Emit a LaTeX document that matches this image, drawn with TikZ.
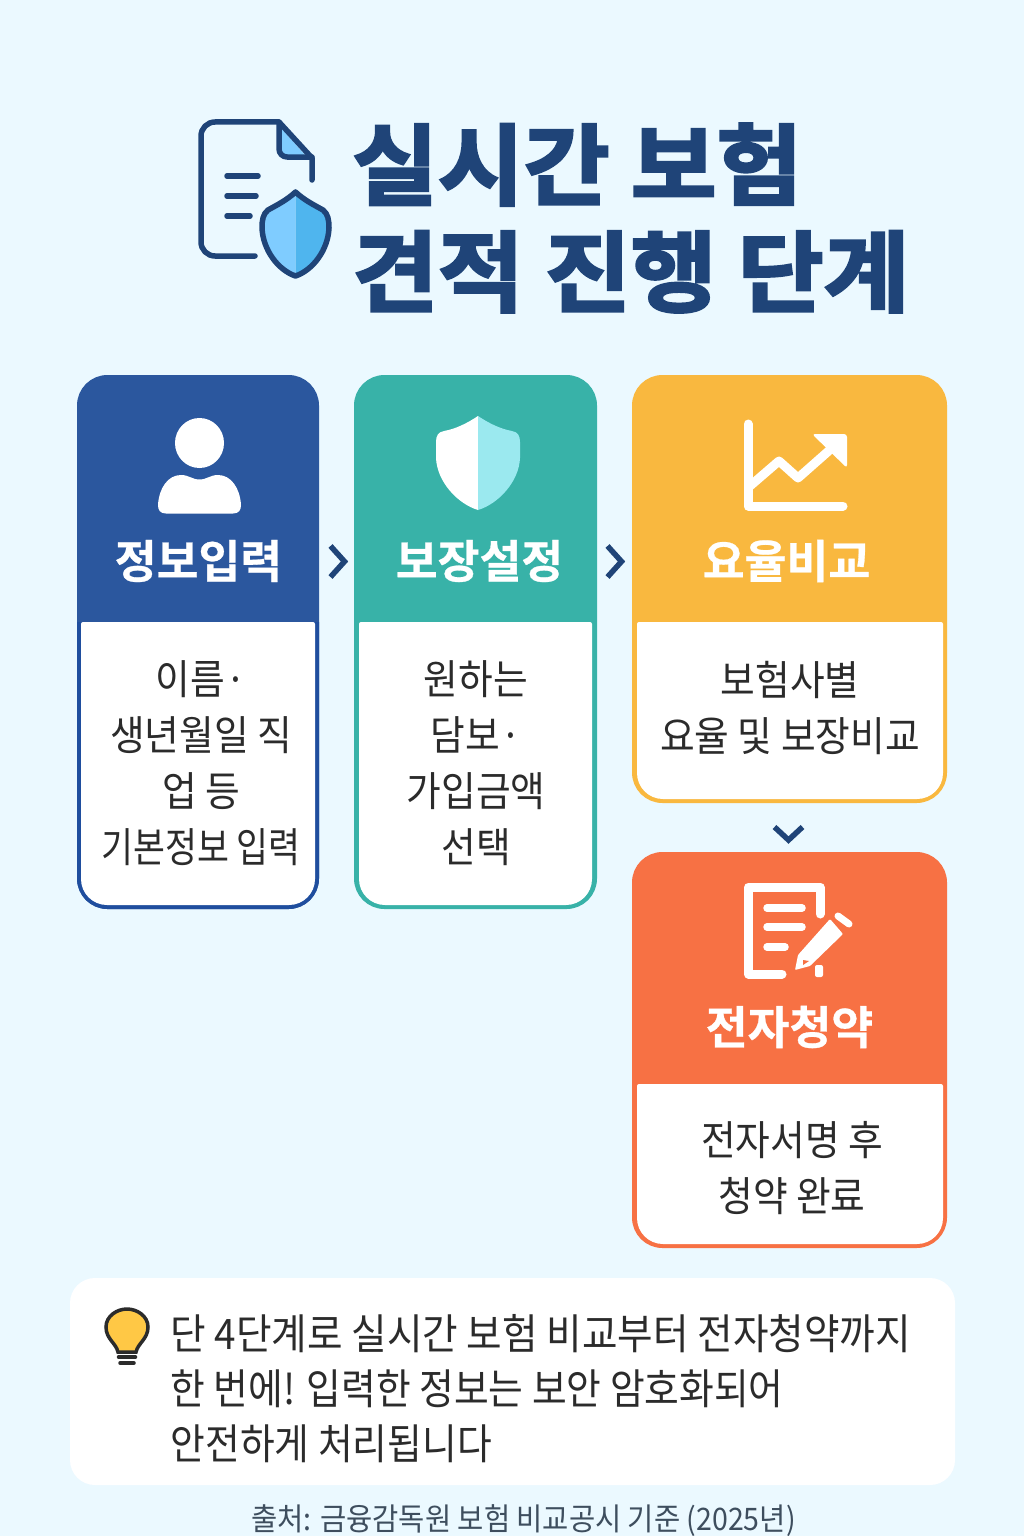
\documentclass[tikz,border=0pt]{standalone}
\usepackage{fontspec}
\setmainfont{Noto Sans CJK KR}
\newfontfamily\titlefont{Noto Sans CJK KR Bold}[FakeBold=3,FakeStretch=1.06]
\newfontfamily\headfont{Noto Sans CJK KR Bold}[FakeBold=0.6]
\newfontfamily\bodyfont{Noto Sans CJK KR}[FakeStretch=0.92]
\usetikzlibrary{positioning, calc}
\definecolor{pagebg}{HTML}{EBF9FF}
\definecolor{navy}{HTML}{1F4478}
\definecolor{bluehead}{HTML}{2B579E}
\definecolor{blueline}{HTML}{1F4E9E}
\definecolor{tealhead}{HTML}{38B2A8}
\definecolor{amberhead}{HTML}{F9B83F}
\definecolor{orangehead}{HTML}{F77144}
\definecolor{skylight}{HTML}{7FCCFF}
\definecolor{skydark}{HTML}{4FB5EE}
\definecolor{mint}{HTML}{9BE9EF}
\definecolor{inkdark}{HTML}{2B2B2B}
\definecolor{bulbfill}{HTML}{FFC845}
\definecolor{sourceink}{HTML}{3E4E5E}

\begin{document}
\begin{tikzpicture}[
    x=1pt, y=-1pt,
    card/.style={draw, rectangle, rounded corners=28pt, line width=5pt, outer sep=0pt, inner sep=0pt},
    headtext/.style={text=white, inner sep=0pt, font={\fontsize{45.5}{50}\headfont}},
    bodytext/.style={text=inkdark, inner sep=0pt, align=center, font={\fontsize{41}{56}\bodyfont}},
    chevron/.style={draw=navy, line width=5.5pt, line join=miter},
    iconline/.style={draw=white, line width=9pt, line cap=round, line join=round},
    docline/.style={draw=navy, line width=5.5pt, line cap=round, line join=round}
]
    \useasboundingbox (0,0) rectangle (1024,1536);
    \fill[pagebg] (0,0) rectangle (1024,1536);

    % Title
    \node[anchor=west, align=left, inner sep=0pt, text=navy, font={\fontsize{88}{107}\titlefont}] (title) at (352,218) {실시간 보험\\견적 진행 단계};

    % Document icon
    \fill[skylight] (281,128) -- (305,155) -- (281,155) -- cycle;
    \draw[docline] (255,256) [rounded corners=14pt] -- (201,256) -- (201,122) [sharp corners] -- (279,122) -- (312,158) -- (312,180);
    \draw[docline, rounded corners=8pt] (279,122) -- (279,157) -- (312,157);
    \draw[docline] (227,176) -- (258,176);
    \draw[docline] (227,196) -- (256,196);
    \draw[docline] (227,216) -- (250,216);
    \fill[skylight] (295.5,192) .. controls (287,200) and (277,205) .. (268,210) .. controls (263,214) and (262,220) .. (262,228) .. controls (263,250) and (278,270) .. (295.5,276) -- cycle;
    \fill[skydark] (295.5,192) .. controls (304,200) and (314,205) .. (323,210) .. controls (328,214) and (329,220) .. (329,228) .. controls (328,250) and (313,270) .. (295.5,276) -- cycle;
    \draw[docline] (295.5,192) .. controls (287,200) and (277,205) .. (268,210) .. controls (263,214) and (262,220) .. (262,228) .. controls (263,250) and (278,270) .. (295.5,276) .. controls (313,270) and (328,250) .. (329,228) .. controls (329,220) and (328,214) .. (323,210) .. controls (314,205) and (304,200) .. (295.5,192) -- cycle;

    % Cards
    \node[card, draw=bluehead, fill=bluehead, minimum width=237pt, minimum height=529pt] (card1) at (198,642) {};
    \node[card, draw=tealhead, fill=tealhead, minimum width=238pt, minimum height=529pt, anchor=north west] (card2) at (356.5,377.5) {};
    \node[card, draw=amberhead, fill=amberhead, minimum width=310pt, minimum height=423pt, anchor=north west] (card3) at (634.5,377.5) {};
    \node[card, draw=orangehead, fill=orangehead, minimum width=310pt, minimum height=391pt, below=54pt of card3] (card4) {};

    % White panels
    \draw[draw=blueline, line width=5pt, rounded corners=28pt] (79.5,622) -- (79.5,906.5) -- (316.5,906.5) -- (316.5,622);
    \fill[white, rounded corners=2pt] (81,622) -- (315,622) [rounded corners=26pt] -- (315,905) -- (81,905) [rounded corners=2pt] -- cycle;
    \fill[white, rounded corners=2pt] (359,622) -- (592,622) [rounded corners=26pt] -- (592,905) -- (359,905) [rounded corners=2pt] -- cycle;
    \fill[white, rounded corners=2pt] (637,622) -- (943,622) [rounded corners=26pt] -- (943,799) -- (637,799) [rounded corners=2pt] -- cycle;
    \fill[white, rounded corners=2pt] (637,1084) -- (943,1084) [rounded corners=26pt] -- (943,1244) -- (637,1244) [rounded corners=2pt] -- cycle;

    % Card texts
    \node[headtext] (head1) at (198.5,561) {정보입력};
    \node[headtext] (head2) at (479.5,561) {보장설정};
    \node[headtext] (head3) at (786.5,561) {요율비교};
    \node[headtext] (head4) at (789.5,1027) {전자청약};
    \node[bodytext] (text1) at (201,763.5) {이름·\\생년월일 직\\업 등\\\scalebox{0.92}[1]{기본정보 입력}};
    \node[bodytext] (text2) at (476,763.5) {원하는\\담보·\\가입금액\\선택};
    \node[bodytext] (text3) at (790,707.5) {보험사별\\요율 및 보장비교};
    \node[bodytext] (text4) at (792,1168.5) {전자서명 후\\청약 완료};

    % Person icon
    \fill[white] (199.5,443) ellipse[x radius=24.5pt, y radius=25pt];
    \fill[white] (166,513.5) .. controls (160,513.5) and (158,510) .. (158,505) .. controls (159,488) and (168,475) .. (181,475) .. controls (189,475) and (192,479.5) .. (199.5,479.5) .. controls (207,479.5) and (210,475) .. (218,475) .. controls (231,475) and (240,488) .. (241,505) .. controls (241,510) and (239,513.5) .. (233,513.5) -- cycle;

    % Shield icon
    \fill[white] (478,416) .. controls (466,424) and (455,429) .. (444,431) .. controls (438,432) and (436,436) .. (436,442) -- (436,458) .. controls (437,482) and (458,504) .. (478,510) -- cycle;
    \fill[mint] (478,416) .. controls (490,424) and (501,429) .. (512,431) .. controls (518,432) and (520,436) .. (520,442) -- (520,458) .. controls (519,482) and (498,504) .. (478,510) -- cycle;

    % Chart icon
    \draw[iconline] (748,424) -- (748,506) -- (843,506);
    \draw[iconline, line cap=butt] (750,486) -- (779,461) -- (798,478) -- (832,448);
    \fill[white, rounded corners=3pt] (812,434) -- (847,434) -- (847,468) -- cycle;

    % Form icon
    \draw[iconline] (820,914) -- (820,887) -- (748.5,887) -- (748.5,974) -- (782,974);
    \draw[iconline, line width=7.5pt] (767,908) -- (802,908);
    \draw[iconline, line width=7.5pt] (767,927) -- (802,927);
    \draw[iconline, line width=7.5pt] (767,947) -- (785,947);
    \fill[white, rounded corners=1pt] (830,919) -- (843,934) -- (810,966) -- (795,970) -- (798,955) -- cycle;
    \fill[orangehead] (803,960) -- (809,961) -- (803,965) -- cycle;
    \draw[iconline, line width=7pt] (838,916) -- (849,924);
    \fill[white, rounded corners=2pt] (815,965) rectangle (823,977);

    % Connections
    \coordinate (next1) at ($(card1.east |- head1)!0.5!(card2.west |- head1)$);
    \coordinate (next2) at ($(card2.east |- head2)!0.5!(card3.west |- head2)$);
    \coordinate (next3) at ($(card3.south)!0.5!(card4.north)$);
    \draw[chevron] ($(next1)+(-6,-15)$) -- ++(14,15.5) -- ++(-14,15.5);
    \draw[chevron] ($(next2)+(-7,-15)$) -- ++(14,15.5) -- ++(-14,15.5);
    \draw[chevron] ($(next3)+(-15,-0.5)$) -- ++(14,13) -- ++(14,-13);

    % Note box
    \node[draw=none, fill=white, rectangle, rounded corners=25pt, minimum width=885pt, minimum height=207pt] (note) at (512.5,1381.5) {};
    \node[anchor=west, align=left, inner sep=0pt, text=inkdark, font={\fontsize{42}{55}\bodyfont}] (notetext) at (170.5,1388.5) {단 4단계로 실시간 보험 비교부터 전자청약까지\\\scalebox{0.977}[1]{한 번에! 입력한 정보는 보안 암호화되어}\\\scalebox{0.977}[1]{안전하게 처리됩니다}};

    % Bulb icon
    \draw[fill=bulbfill, draw=inkdark, line width=3.5pt] (118,1352) .. controls (116,1343) and (106,1339) .. (106,1327) .. controls (106,1316) and (117,1309) .. (127,1309) .. controls (137,1309) and (148,1316) .. (148,1327) .. controls (148,1339) and (138,1343) .. (136,1352) -- cycle;
    \draw[draw=inkdark, line width=3.5pt, line cap=round] (118.5,1357) -- (135.5,1357);
    \draw[draw=inkdark, line width=3.5pt, line cap=round] (120,1363) -- (134,1363);

    % Source line
    \node[inner sep=0pt, text=sourceink, font={\fontsize{31}{36}\bodyfont}] (source) at (523.5,1521) {출처: 금융감독원 보험 비교공시 기준 (2025년)};
\end{tikzpicture}
\end{document}
